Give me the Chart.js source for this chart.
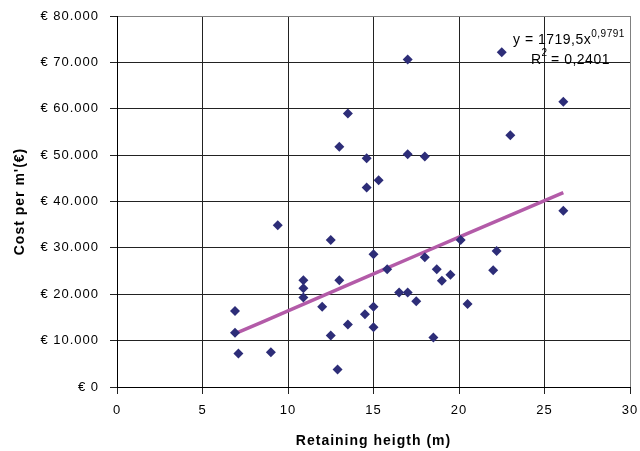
<!DOCTYPE html>
<html>
<head>
<meta charset="utf-8">
<script src="https://cdn.jsdelivr.net/npm/chart.js@4"></script>
<style>
  html, body { margin: 0; padding: 0; background: #fff; }
  #wrap { width: 640px; height: 451px; }
</style>
</head>
<body>
<div id="wrap"><canvas id="costChart" width="640" height="451"></canvas></div>
<script>
// Retaining height (m) and cost per metre (EUR)
const heights = [13.5, 13.0, 14.6, 15.3, 14.6, 17.0, 22.5, 26.1, 23.0, 17.0, 18.0, 9.4, 12.5, 15.0, 10.9, 10.9, 10.9, 13.0, 12.0, 6.9, 6.9, 7.1, 9.0, 12.5, 12.9, 13.5, 14.5, 15.0, 15.0, 15.8, 20.1, 18.0, 18.7, 19.0, 19.5, 16.5, 17.0, 17.5, 20.5, 18.5, 22.2, 22.0, 26.1];
const costs = [59000, 51800, 49300, 44600, 43000, 70600, 72200, 61500, 54300, 50200, 49700, 34900, 31700, 28600, 23000, 21300, 19300, 23000, 17300, 16400, 11700, 7200, 7500, 11100, 3800, 13500, 15700, 17300, 12900, 25400, 31700, 28000, 25400, 22900, 24200, 20400, 20400, 18500, 17900, 10700, 29300, 25200, 38000];

// power trendline as drawn (y = 1719,5x^0,9791)
const trendX = [6.9, 10, 15, 20, 26.1];
const trendY = [11500, 16400, 24400, 32300, 41900];

const xTicks = [0, 5, 10, 15, 20, 25, 30];
const yTicks = [0, 10000, 20000, 30000, 40000, 50000, 60000, 70000, 80000];

const eqLine1 = 'y = 1719,5x';
const eqSup1 = '0,9791';
const eqLine2a = 'R';
const eqSup2 = '2';
const eqLine2b = ' = 0,2401';

const FONT = '"Liberation Sans", Arial, sans-serif';

function euro(v) {
  return '€ ' + v.toLocaleString('de-DE');
}

// Excel spaces its text out a bit wider than the canvas does
const wideText = {
  id: 'wideText',
  beforeUpdate(chart) { chart.ctx.letterSpacing = '1px'; },
  beforeDraw(chart) { chart.ctx.letterSpacing = '1px'; }
};

// equation label in the top right corner
const equationLabel = {
  id: 'equationLabel',
  afterDraw(chart) {
    const ctx = chart.ctx;
    ctx.save();
    ctx.letterSpacing = '0.5px';
    ctx.fillStyle = '#000';
    ctx.textBaseline = 'alphabetic';
    ctx.font = '14px ' + FONT;
    let x = 513;
    ctx.fillText(eqLine1, x, 44);
    x += ctx.measureText(eqLine1).width;
    ctx.font = '10px ' + FONT;
    ctx.fillText(eqSup1, x, 37);

    ctx.font = '14px ' + FONT;
    x = 531;
    ctx.fillText(eqLine2a, x, 64);
    x += ctx.measureText(eqLine2a).width;
    ctx.font = '10px ' + FONT;
    ctx.fillText(eqSup2, x, 56);
    x += ctx.measureText(eqSup2).width - 1;
    ctx.font = '14px ' + FONT;
    ctx.fillText(eqLine2b, x, 64);
    ctx.restore();
  }
};

const ctx = document.getElementById('costChart').getContext('2d');
new Chart(ctx, {
  type: 'scatter',
  data: {
    datasets: [
      {
        label: 'Trend',
        type: 'line',
        data: trendX.map((x, i) => ({ x: x, y: trendY[i] })),
        borderColor: '#b35ba8',
        borderWidth: 3.5,
        pointRadius: 0,
        tension: 0.4,
        order: 1
      },
      {
        label: 'Cost',
        data: heights.map((h, i) => ({ x: h, y: costs[i] })),
        pointStyle: 'rectRot',
        pointRadius: 5,
        backgroundColor: '#2d2d78',
        borderColor: '#2d2d78',
        borderWidth: 0,
        order: 0
      }
    ]
  },
  options: {
    responsive: false,
    animation: false,
    layout: { padding: { top: 16, right: 10, left: 0, bottom: 0 } },
    plugins: {
      legend: { display: false },
      tooltip: { enabled: false }
    },
    scales: {
      x: {
        type: 'linear',
        min: 0,
        max: 30,
        afterBuildTicks: (scale) => { scale.ticks = xTicks.map(v => ({ value: v })); },
        afterFit: (scale) => {
          scale.height = 64;
          scale.paddingLeft = 0;
          scale.paddingRight = 0;
        },
        grid: {
          color: (c) => c.tick && c.tick.value === 30 ? '#808080' : '#222',
          tickColor: '#222',
          tickLength: 7,
          lineWidth: 1
        },
        border: { color: '#000', width: 1 },
        ticks: {
          color: '#000',
          padding: 9,
          font: { family: FONT, size: 13 },
          maxRotation: 0
        },
        title: {
          display: true,
          text: 'Retaining heigth (m)',
          color: '#000',
          font: { family: FONT, size: 14, weight: 'bold' },
          padding: { top: 1, bottom: 1 }
        }
      },
      y: {
        type: 'linear',
        min: 0,
        max: 80000,
        afterBuildTicks: (scale) => { scale.ticks = yTicks.map(v => ({ value: v })); },
        afterFit: (scale) => {
          scale.width = 117;
          scale.paddingTop = 0;
          scale.paddingBottom = 0;
        },
        grid: {
          color: (c) => c.tick && c.tick.value === 80000 ? '#808080' : '#222',
          tickColor: '#222',
          tickLength: 7,
          lineWidth: 1
        },
        border: { color: '#000', width: 1 },
        ticks: {
          color: '#000',
          padding: 11,
          font: { family: FONT, size: 13 },
          callback: (v) => euro(v)
        },
        title: {
          display: true,
          text: "Cost per m'(€)",
          color: '#000',
          font: { family: FONT, size: 14, weight: 'bold' },
          padding: { top: 12, bottom: 12 }
        }
      }
    }
  },
  plugins: [wideText, equationLabel]
});
</script>
</body>
</html>
